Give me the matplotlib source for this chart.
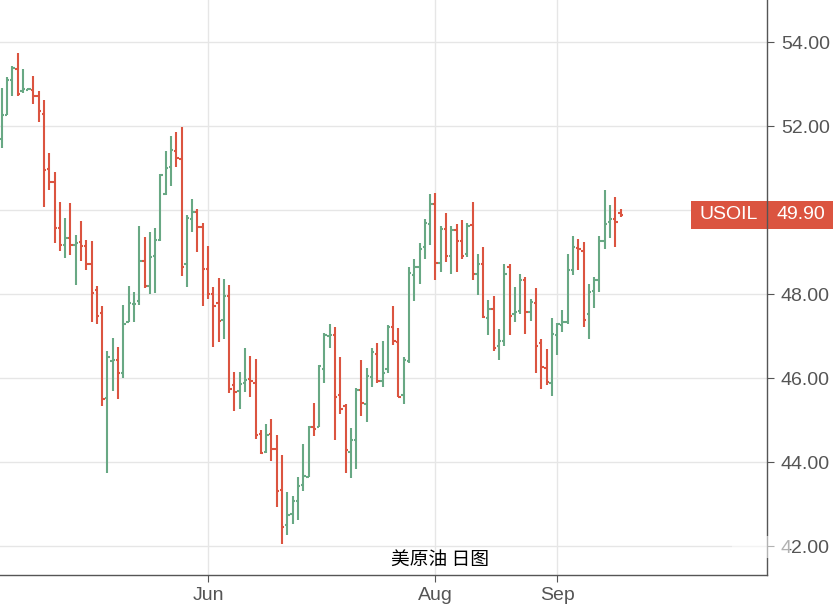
import matplotlib
matplotlib.use("Agg")
import matplotlib.pyplot as plt
import matplotlib.transforms as mtransforms
from matplotlib.patches import Rectangle
import numpy as np
import pandas as pd

plt.rcParams['font.family'] = ['Liberation Sans', 'Noto Sans CJK SC', 'DejaVu Sans']

# Datos: barras diarias USOIL (OHLC)
opens = [51.69, 52.28, 53.11, 53.37, 52.83, 52.87, 52.87, 52.73, 52.30, 50.99,
         50.68, 49.57, 49.18, 49.35, 49.17, 49.24, 49.16, 48.73, 48.10, 47.56,
         45.52, 46.42, 46.44, 46.13, 47.33, 47.77, 47.83, 48.79, 48.20, 48.91,
         49.29, 50.39, 51.03, 51.41, 51.22, 48.71, 49.79, 49.96, 49.60, 48.60,
         48.00, 47.79, 47.40, 47.95, 45.83, 45.69, 45.88, 45.98, 45.90, 44.67,
         44.24, 44.67, 44.31, 43.33, 42.50, 42.76, 43.07, 43.45, 43.66, 44.85,
         44.84, 46.21, 47.00, 47.04, 45.61, 45.33, 44.25, 44.54, 45.71, 45.40,
         46.04, 46.59, 45.94, 46.21, 47.21, 46.87, 45.61, 46.42, 48.46, 48.65,
         49.13, 49.67, 50.15, 48.75, 49.56, 48.92, 49.52, 49.28, 48.97, 49.66,
         48.48, 48.73, 47.44, 47.66, 46.77, 46.90, 48.66, 47.54, 47.61, 48.33,
         47.59, 47.79, 46.83, 46.25, 45.90, 47.04, 47.28, 47.35, 48.58, 49.11,
         49.04, 47.54, 48.09, 48.33, 49.27, 49.71, 49.80, 49.93]
highs = [52.91, 53.17, 53.44, 53.75, 53.37, 52.90, 53.20, 52.84, 52.63, 51.37,
         50.91, 50.20, 49.82, 50.17, 49.41, 49.75, 49.29, 49.27, 48.20, 47.72,
         46.65, 46.95, 46.74, 47.74, 48.19, 48.05, 49.62, 49.36, 49.48, 49.57,
         50.86, 51.40, 51.76, 51.86, 51.98, 49.90, 50.26, 50.02, 49.69, 49.14,
         48.18, 48.40, 48.37, 48.21, 46.16, 46.16, 46.71, 46.54, 46.47, 44.78,
         44.92, 45.04, 44.66, 44.18, 43.30, 43.19, 43.64, 44.43, 44.87, 45.41,
         46.32, 47.08, 47.29, 47.22, 46.51, 45.39, 44.82, 45.77, 46.44, 46.25,
         46.72, 46.84, 46.89, 47.27, 47.72, 47.20, 46.51, 48.65, 48.84, 49.22,
         49.79, 50.39, 50.41, 49.63, 49.94, 49.63, 49.67, 49.77, 49.70, 50.20,
         48.96, 49.13, 47.87, 47.96, 47.17, 48.72, 48.72, 48.17, 48.48, 48.41,
         47.89, 48.15, 46.94, 46.70, 47.44, 47.32, 47.63, 48.96, 49.39, 49.32,
         49.25, 48.25, 48.41, 49.39, 50.48, 50.13, 50.32, 50.03]
lows = [51.49, 52.26, 52.71, 52.71, 52.80, 52.86, 52.54, 52.11, 50.09, 50.49,
        49.21, 49.02, 48.87, 48.94, 48.21, 48.80, 48.59, 47.35, 47.30, 45.33,
        43.75, 45.70, 45.51, 46.01, 47.33, 47.34, 47.75, 48.15, 48.01, 48.03,
        49.27, 50.37, 50.58, 51.03, 48.44, 48.17, 49.48, 49.01, 47.72, 47.89,
        46.74, 46.86, 46.93, 45.64, 45.21, 45.26, 45.67, 45.55, 44.55, 44.19,
        44.21, 44.02, 42.93, 42.05, 42.26, 42.52, 42.62, 43.31, 43.64, 44.63,
        44.83, 45.90, 46.73, 44.52, 45.16, 43.75, 43.63, 43.83, 45.11, 44.97,
        45.80, 45.90, 45.80, 46.13, 46.80, 45.55, 45.40, 46.37, 47.85, 48.25,
        48.85, 49.18, 48.35, 48.54, 48.78, 48.49, 48.54, 48.85, 48.90, 48.33,
        47.99, 47.44, 47.02, 46.65, 46.43, 46.78, 47.02, 47.35, 47.52, 47.06,
        47.37, 46.13, 45.75, 45.83, 45.59, 46.56, 47.11, 47.30, 48.47, 48.59,
        47.21, 46.94, 47.68, 48.06, 49.09, 49.35, 49.13, 49.83]
closes = [52.28, 53.11, 53.39, 52.78, 52.89, 52.88, 52.71, 52.37, 50.97, 50.68,
          49.59, 49.18, 49.35, 49.18, 49.21, 49.16, 48.71, 48.04, 47.49, 45.50,
          46.50, 46.44, 46.13, 47.29, 47.79, 47.78, 48.79, 48.20, 48.89, 49.29,
          50.84, 51.01, 51.44, 51.25, 48.65, 49.82, 49.97, 49.60, 48.60, 48.01,
          47.71, 47.36, 47.95, 45.74, 45.67, 45.86, 45.95, 45.93, 44.64, 44.21,
          44.64, 44.31, 43.31, 42.45, 42.74, 43.07, 43.43, 43.67, 44.85, 44.80,
          46.30, 47.02, 47.04, 45.56, 45.27, 44.30, 44.54, 45.73, 45.42, 46.06,
          46.63, 45.94, 46.13, 47.23, 46.90, 45.56, 46.44, 48.50, 48.65, 49.08,
          49.70, 50.15, 48.75, 49.56, 48.92, 49.52, 49.28, 48.92, 49.63, 48.48,
          48.73, 47.47, 47.66, 46.71, 46.89, 48.48, 47.49, 47.59, 48.35, 47.59,
          47.82, 46.78, 46.28, 45.92, 47.06, 47.30, 47.35, 48.58, 49.13, 49.09,
          47.40, 48.06, 48.33, 49.27, 49.68, 49.80, 49.73, 49.90]

fechas = pd.bdate_range("2017-04-07", periods=len(closes))
meses = ["2017-06", "2017-08", "2017-09"]
etiquetas_meses = ["Jun", "Aug", "Sep"]
precios_y = [42, 44, 46, 48, 50, 52, 54]
simbolo = "USOIL"
titulo = "美原油 日图"

verde = "#68a884"
rojo = "#db5440"
gris = "#555555"

o = np.array(opens)
h = np.array(highs)
l = np.array(lows)
c = np.array(closes)
x = np.arange(len(c))
colores = np.where(c >= o, verde, rojo)

fig = plt.figure(figsize=(8.33, 6.06), dpi=100)
ax = fig.add_axes([0.0, 31 / 606, 767 / 833, 575 / 606])

# barras OHLC
ax.vlines(x, l, h, colors=colores, linewidth=1.5, zorder=3)
ax.hlines(o, x - 0.45, x, colors=colores, linewidth=1.5, zorder=3)
ax.hlines(c, x, x + 0.45, colors=colores, linewidth=1.5, zorder=3)

# ejes
ax.set_xlim(-0.32, -0.32 + 767 / 5.29)
ax.set_ylim(41.317, 55.007)

pos_meses = [int(np.argmax(fechas.strftime("%Y-%m") == m)) for m in meses]
ax.set_xticks(pos_meses)
ax.set_xticklabels(etiquetas_meses)

ultimo = closes[-1]
ax.set_yticks(precios_y)
# la etiqueta de 50.00 queda tapada por el recuadro del precio
ax.set_yticklabels(["" if abs(p - ultimo) < 0.5 else "{:.2f}".format(p)
                    for p in precios_y])
ax.yaxis.tick_right()

ax.grid(True, color="#e6e6e6", linewidth=1, zorder=0)
ax.set_axisbelow(True)
for lado in ["left", "top"]:
    ax.spines[lado].set_visible(False)
for lado in ["right", "bottom"]:
    ax.spines[lado].set_color(gris)
    ax.spines[lado].set_linewidth(1)
    ax.spines[lado].set_zorder(6)
ax.tick_params(axis="y", colors=gris, labelsize=14, length=5, pad=5,
               labelcolor=gris)
ax.tick_params(axis="x", colors=gris, labelsize=14, length=5, pad=4,
               labelcolor=gris)

# titulo dentro del grafico
ax.text(440 / 767, 16 / 575, titulo, transform=ax.transAxes, ha="center",
        va="center", fontsize=13.5, color="black",
        family=['Noto Sans CJK SC', 'DejaVu Sans'])

# etiqueta del ultimo precio
trans = mtransforms.blended_transform_factory(ax.transAxes, ax.transData)
alto = 28 / 42
ax.add_patch(Rectangle((691 / 767, ultimo - alto / 2), 142 / 767, alto,
                       transform=trans, clip_on=False, color=rojo, zorder=2,
                       linewidth=0))
ax.text(728.5 / 767, ultimo, simbolo, transform=trans, ha="center",
        va="center", color="white", fontsize=14, zorder=4, clip_on=False)
ax.text(800.5 / 767, ultimo, "{:.2f}".format(ultimo), transform=trans,
        ha="center", va="center", color="white", fontsize=14, zorder=4,
        clip_on=False)

# capa blanca sobre la etiqueta 42.00
fig.patches.append(Rectangle((732 / 833, 1 - 558 / 606), 58 / 833, 22 / 606,
                             transform=fig.transFigure, color="white",
                             alpha=0.55, linewidth=0))

fig.savefig("out.png", dpi=100)
